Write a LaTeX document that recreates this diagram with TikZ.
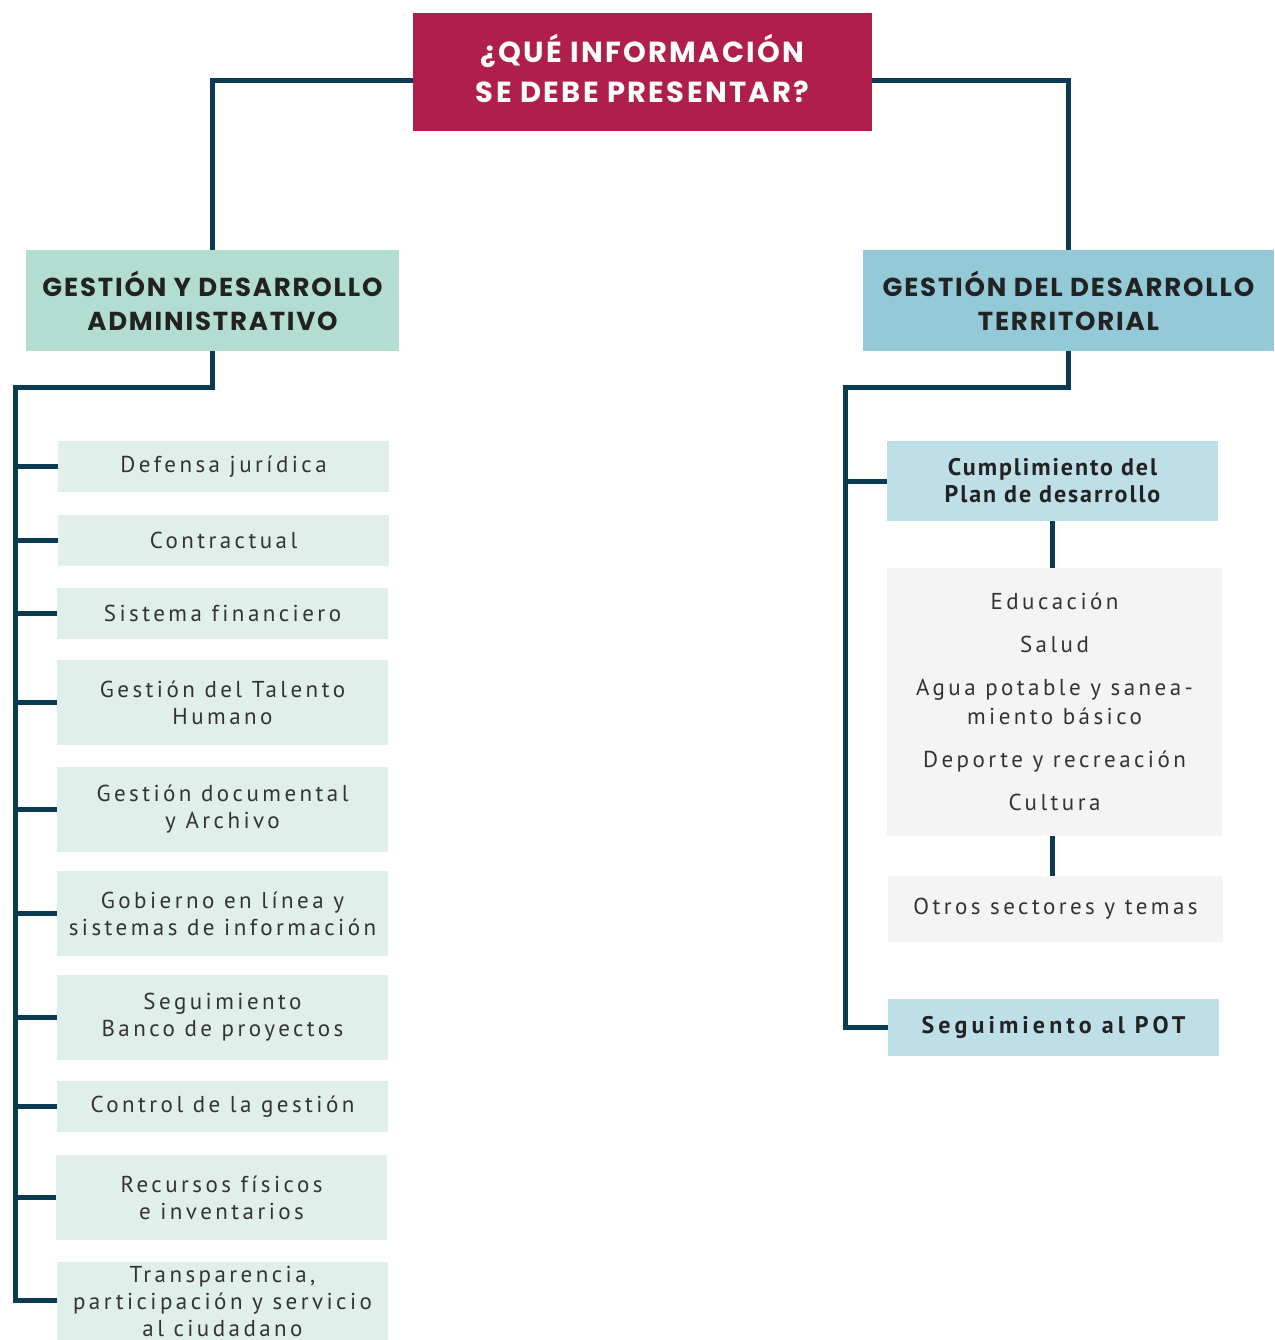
\documentclass[tikz,border=0pt]{standalone}
\usepackage{fontspec}
\setmainfont{PT Sans}
\newfontfamily\titlefont[LetterSpace=8]{Poppins}
\newfontfamily\headfont[LetterSpace=7]{Poppins}
\newfontfamily\bodyfont[LetterSpace=15,Ligatures=NoCommon]{PT Sans}
\newfontfamily\boldfont[LetterSpace=8,Ligatures=NoCommon]{PT Sans}
\newfontfamily\potfont[LetterSpace=17,Ligatures=NoCommon]{PT Sans}
\definecolor{titlered}{HTML}{B01F4B}
\definecolor{lefthead}{HTML}{B3DDD1}
\definecolor{righthead}{HTML}{94CAD8}
\definecolor{leftitem}{HTML}{E0EFEA}
\definecolor{rightsub}{HTML}{BEDFE7}
\definecolor{greybox}{HTML}{F4F4F4}
\definecolor{connc}{HTML}{0B3A53}
\definecolor{txt}{HTML}{333333}
\definecolor{headtxt}{HTML}{222222}
\tikzset{
  box/.style={inner sep=0pt, align=center, anchor=center},
  titlebox/.style={box, fill=titlered, text=white, font=\titlefont\bfseries\fontsize{29}{40}\selectfont},
  headbox/.style={box, text=headtxt, font=\headfont\bfseries\fontsize{26}{34}\selectfont},
  itembox/.style={box, fill=leftitem, text=txt, font=\bodyfont\fontsize{23}{27}\selectfont},
  subbox/.style={box, fill=rightsub, text=headtxt, font=\boldfont\bfseries\fontsize{24}{27}\selectfont},
  greyitem/.style={box, fill=greybox, text=txt, font=\bodyfont\fontsize{23}{29}\selectfont},
  conn/.style={draw=connc, line width=5pt, line join=miter}
}
\begin{document}
\begin{tikzpicture}[x=1pt, y=-1pt]
\useasboundingbox (0,0) rectangle (1274,1340);
% title
\node[titlebox, minimum width=459, minimum height=118, text depth=7pt] (title) at (642.5,72) {¿QUÉ INFORMACIÓN\\SE DEBE PRESENTAR?};
% headers
\node[headbox, fill=lefthead, minimum width=373, minimum height=101] (lh) at (212.5,300.5) {GESTIÓN Y DESARROLLO\\ADMINISTRATIVO};
\node[headbox, fill=righthead, minimum width=411, minimum height=101] (rh) at (1068.5,300.5) {GESTIÓN DEL DESARROLLO\\TERRITORIAL};
% left items
\node[itembox, minimum width=331, minimum height=51] (l1) at (223.5,466.5) {Defensa jurídica};
\node[itembox, minimum width=331, minimum height=51] (l2) at (223.5,540.5) {Contractual};
\node[itembox, minimum width=331, minimum height=51] (l3) at (222.5,613.5) {Sistema financiero};
\node[itembox, minimum width=331, minimum height=85] (l4) at (222.5,702.5) {Gestión del Talento\\Humano};
\node[itembox, minimum width=331, minimum height=85] (l5) at (222.5,809.5) {Gestión documental\\y Archivo};
\node[itembox, minimum width=331, minimum height=85] (l6) at (222.5,913.5) {Gobierno en línea y\\sistemas de información};
\node[itembox, minimum width=331, minimum height=85] (l7) at (222.5,1017.5) {Seguimiento\\Banco de proyectos};
\node[itembox, minimum width=331, minimum height=51] (l8) at (222.5,1106.5) {Control de la gestión};
\node[itembox, minimum width=331, minimum height=85] (l9) at (221.5,1197.5) {Recursos físicos\\e inventarios};
\node[itembox, minimum width=331, minimum height=110, text depth=0pt] (l10) at (222.5,1317) {};
\node[box, text=txt, font=\bodyfont\fontsize{23}{27}\selectfont, anchor=north] (l10t) at (222.5,1266) {Transparencia,\\participación y servicio\\al ciudadano};
% right items
\node[subbox, minimum width=331, minimum height=80] (cp) at (1052.5,481) {Cumplimiento del\\Plan de desarrollo};
\node[greyitem, minimum width=335, minimum height=268] (gr) at (1054.5,702) {Educación\\[14pt]Salud\\[14pt]Agua potable y sanea-\\miento básico\\[14pt]Deporte y recreación\\[14pt]Cultura};
\node[greyitem, minimum width=335, minimum height=66] (ot) at (1055.5,909) {Otros sectores y temas};
\node[subbox, font=\potfont\bfseries\fontsize{24}{27}\selectfont, minimum width=331, minimum height=57] (pot) at (1053.5,1027.5) {Seguimiento al POT};
% connectors top
\draw[conn] ([yshift=-9pt]title.west) -| (lh.north);
\draw[conn] ([yshift=-9pt]title.east) -| (rh.north);
% left trunk
\coordinate (lt) at (15,387);
\coordinate (lb) at (15,1300);
\draw[conn] (lh.south) |- (lt) -- (lb) -- (lb -| l10.west);
\foreach \n in {l1,l2,l3,l4,l5,l6,l7,l8,l9}{
  \draw[conn] (\n.west -| lt) -- (\n.west);
}
% right trunk
\coordinate (rt) at (845,387);
\draw[conn] (rh.south) |- (rt) |- (pot.west);
\draw[conn] (cp.west -| rt) -- (cp.west);
\draw[conn] (cp.south) -- (cp.south |- gr.north);
\draw[conn] (cp.south |- gr.south) -- (cp.south |- ot.north);
\end{tikzpicture}
\end{document}
